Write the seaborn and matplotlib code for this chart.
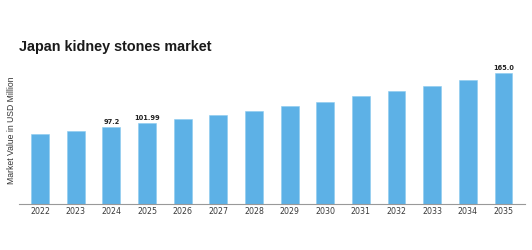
import matplotlib
matplotlib.use("Agg")
import matplotlib.pyplot as plt
import seaborn as sns
import pandas as pd

years = ["2022", "2023", "2024", "2025", "2026", "2027", "2028",
         "2029", "2030", "2031", "2032", "2033", "2034", "2035"]
values = [88.3, 92.6, 97.2, 101.99, 107.0, 112.2, 117.7,
          123.5, 129.5, 135.9, 142.5, 149.5, 156.9, 165.0]
labels = {"2024": "97.2", "2025": "101.99", "2035": "165.0"}

title = "Japan kidney stones market"
ylabel = "Market Value in USD Million"

df = pd.DataFrame({"year": years, "value": values})

sns.set_style("white")
fig = plt.figure(figsize=(5.32, 2.5), dpi=100)
ax = fig.add_axes([0.0357, 0.184, 0.951, 0.576])

sns.barplot(data=df, x="year", y="value", color="#5DB1E6", saturation=1,
            width=0.5, ax=ax, edgecolor="#8CCBF0", linewidth=0.4)

ax.set_xlim(-0.59, 13.6)
ax.set_ylim(0, 182)

for i, (y, v) in enumerate(zip(years, values)):
    if y in labels:
        ax.text(i, v + 3, labels[y], ha="center", va="bottom",
                fontsize=4.8, fontweight="bold", color="#222222",
                family="DejaVu Sans")

for s in ["left", "right", "top"]:
    ax.spines[s].set_visible(False)
ax.spines["bottom"].set_color("#999999")
ax.spines["bottom"].set_linewidth(0.8)
ax.set_yticks([])
ax.set_xlabel("")
ax.tick_params(axis="x", length=0, pad=2.5, labelsize=5.7, labelcolor="#3a3a3a")
for t in ax.get_xticklabels():
    t.set_family("DejaVu Sans")

ax.set_ylabel(ylabel, fontsize=6.2, color="#333333", family="Liberation Sans",
              labelpad=3)
ax.yaxis.set_label_coords(-0.005, 0.51)

fig.text(0.0357, 0.796, title, fontsize=10.4, fontweight="bold",
         family="Liberation Sans", color="#1a1a1a", ha="left", va="baseline")

fig.savefig("out.png", dpi=100, facecolor="white")
